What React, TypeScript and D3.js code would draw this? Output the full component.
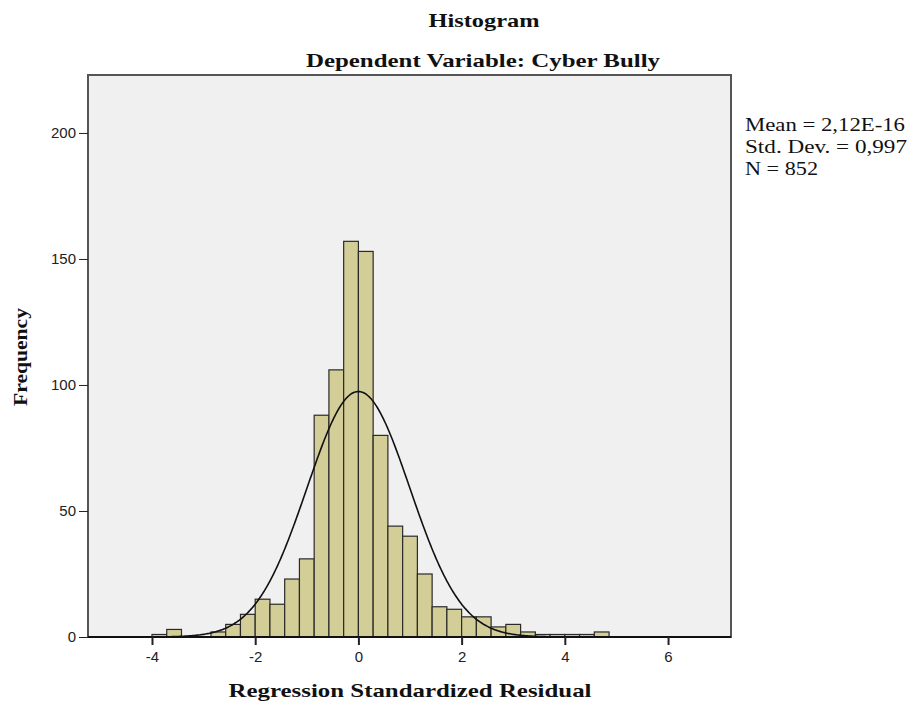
import React, { useEffect, useRef } from 'react'
import * as d3 from 'd3'

// histogram bins: width 2/7, first bin starts at -4
const binWidth = 2 / 7
const firstBinStart = -4
const counts = [
  1, 3, 0, 0, 2, 5, 9, 15, 13, 23, 31, 88, 106, 157,
  153, 80, 44, 40, 25, 12, 11, 8, 8, 4, 5, 2, 1, 1, 1, 1, 2,
]

const xTicks = [-4, -2, 0, 2, 4, 6]
const yTicks = [0, 50, 100, 150, 200]

const mean = 2.12e-16
const stdDev = 0.997
const n = 852
const statLabels = ['Mean = 2,12E-16', 'Std. Dev. = 0,997', 'N = 852']
const statWidths = [160, 162, 73]

const W = 914
const H = 706
const margin = { left: 88, top: 75, right: 183, bottom: 69 }
const serif = '"Liberation Serif", "Times New Roman", serif'
const sans = '"Liberation Sans", Arial, sans-serif'

export default function App() {
  const xAxisRef = useRef<SVGGElement>(null)
  const yAxisRef = useRef<SVGGElement>(null)

  const x = d3.scaleLinear().domain([-5.24, 7.22]).range([margin.left, W - margin.right])
  const y = d3.scaleLinear().domain([0, 223]).range([H - margin.bottom, margin.top])

  useEffect(() => {
    const xa = d3.select(xAxisRef.current!)
    xa.call(d3.axisBottom(x).tickValues(xTicks).tickSize(8).tickPadding(6).tickFormat((d: any) => String(d)) as any)
    xa.select('.domain').remove()
    xa.selectAll('line').attr('stroke', '#222').attr('stroke-width', 2)
    xa.selectAll('text').attr('font-family', sans).attr('font-size', 15).attr('fill', '#222')

    const ya = d3.select(yAxisRef.current!)
    ya.call(d3.axisLeft(y).tickValues(yTicks).tickSize(9).tickPadding(3) as any)
    ya.select('.domain').remove()
    ya.selectAll('line').attr('stroke', '#222').attr('stroke-width', 1)
    ya.selectAll('text').attr('font-family', sans).attr('font-size', 15).attr('fill', '#222')
  }, [])

  const pdf = (v: number) =>
    (n * binWidth) / (stdDev * Math.sqrt(2 * Math.PI)) * Math.exp(-0.5 * ((v - mean) / stdDev) ** 2)
  const curvePts = d3.range(x.domain()[0], x.domain()[1] + 0.01, 0.02)
  const line = d3
    .line<number>()
    .x((d) => x(d))
    .y((d) => y(pdf(d)))
    .curve(d3.curveBasis)

  const plotW = W - margin.left - margin.right
  const plotH = H - margin.top - margin.bottom

  return (
    <svg width={W} height={H} style={{ position: 'absolute', left: 0, top: 0, background: '#fff' }}>
      <text x={484} y={27} textAnchor="middle" fontFamily={serif} fontWeight="bold" fontSize={19}
        textLength={111} lengthAdjust="spacingAndGlyphs" fill="#111">Histogram</text>
      <text x={483} y={67} textAnchor="middle" fontFamily={serif} fontWeight="bold" fontSize={19}
        textLength={354} lengthAdjust="spacingAndGlyphs" fill="#111">Dependent Variable: Cyber Bully</text>

      <rect x={margin.left} y={margin.top} width={plotW} height={plotH}
        fill="#f0f0f0" stroke="#555" strokeWidth={2} />

      {counts.map((c, i) => {
        if (!c) return null
        const x0 = firstBinStart + i * binWidth
        return (
          <rect key={i} x={x(x0)} y={y(c)} width={x(x0 + binWidth) - x(x0)} height={y(0) - y(c)}
            fill="#d3ce97" stroke="#2a2a2a" strokeWidth={1.2} />
        )
      })}

      <path d={line(curvePts) || ''} fill="none" stroke="#111" strokeWidth={1.6} />

      <line x1={margin.left} x2={W - margin.right} y1={y(0)} y2={y(0)} stroke="#111" strokeWidth={2} />

      <g ref={xAxisRef} transform={`translate(0,${y(0)})`} />
      <g ref={yAxisRef} transform={`translate(${margin.left},0)`} />

      <text x={410} y={697} textAnchor="middle" fontFamily={serif} fontWeight="bold" fontSize={19}
        textLength={363} lengthAdjust="spacingAndGlyphs" fill="#111">Regression Standardized Residual</text>
      <text transform={`translate(27,357) rotate(-90)`} textAnchor="middle" fontFamily={serif}
        fontWeight="bold" fontSize={19} textLength={98} lengthAdjust="spacingAndGlyphs" fill="#111">Frequency</text>

      {statLabels.map((s, i) => (
        <text key={s} x={745} y={131 + i * 22} fontFamily={serif} fontSize={19}
          textLength={statWidths[i]} lengthAdjust="spacingAndGlyphs" fill="#111">{s}</text>
      ))}
    </svg>
  )
}
